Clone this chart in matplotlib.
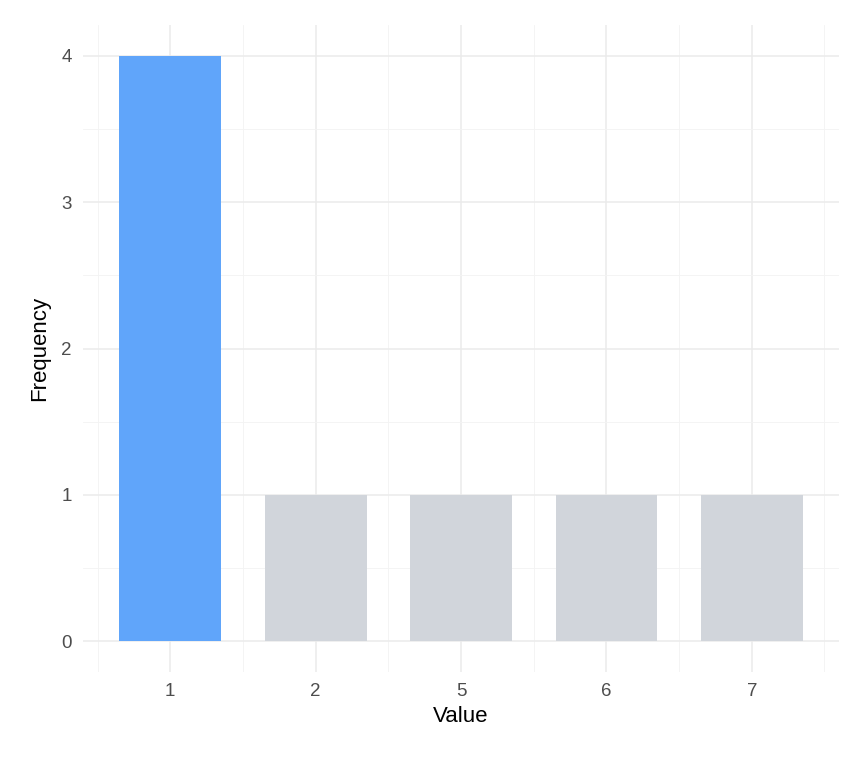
import matplotlib.pyplot as plt
import numpy as np

values = ['1', '2', '5', '6', '7']
freqs = [4, 1, 1, 1, 1]
colors = ['#60A5FA', '#D1D5DB', '#D1D5DB', '#D1D5DB', '#D1D5DB']

plt.rcParams['font.family'] = ['Liberation Sans', 'DejaVu Sans']

fig = plt.figure(figsize=(8.64, 7.68), dpi=100)
ax = fig.add_axes([83 / 864, 1 - 672 / 768, (839 - 83) / 864, (672 - 25) / 768])

x = np.arange(len(values))
ax.bar(x, freqs, width=0.7, color=colors, zorder=2)

ax.set_xlim(-0.6, len(values) - 0.4)
ax.set_ylim(-0.21, 4.21)
ax.set_xticks(x)
ax.set_xticklabels(values)
ax.set_yticks([0, 1, 2, 3, 4])
ax.set_xticks(np.arange(-0.5, len(values)), minor=True)
ax.set_yticks(np.arange(0.5, 4, 1), minor=True)

ax.grid(True, which='major', color='#EBEBEB', linewidth=1.1, zorder=0)
ax.grid(True, which='minor', color='#F3F3F3', linewidth=0.6, zorder=0)
ax.set_axisbelow(True)
for s in ax.spines.values():
    s.set_visible(False)
ax.tick_params(which='both', length=0, labelsize=13.5, labelcolor='#4D4D4D', pad=8)

ax.set_xlabel('Value', fontsize=16, labelpad=4)
ax.set_ylabel('Frequency', fontsize=16, labelpad=8)

fig.savefig('out.png', dpi=100)
